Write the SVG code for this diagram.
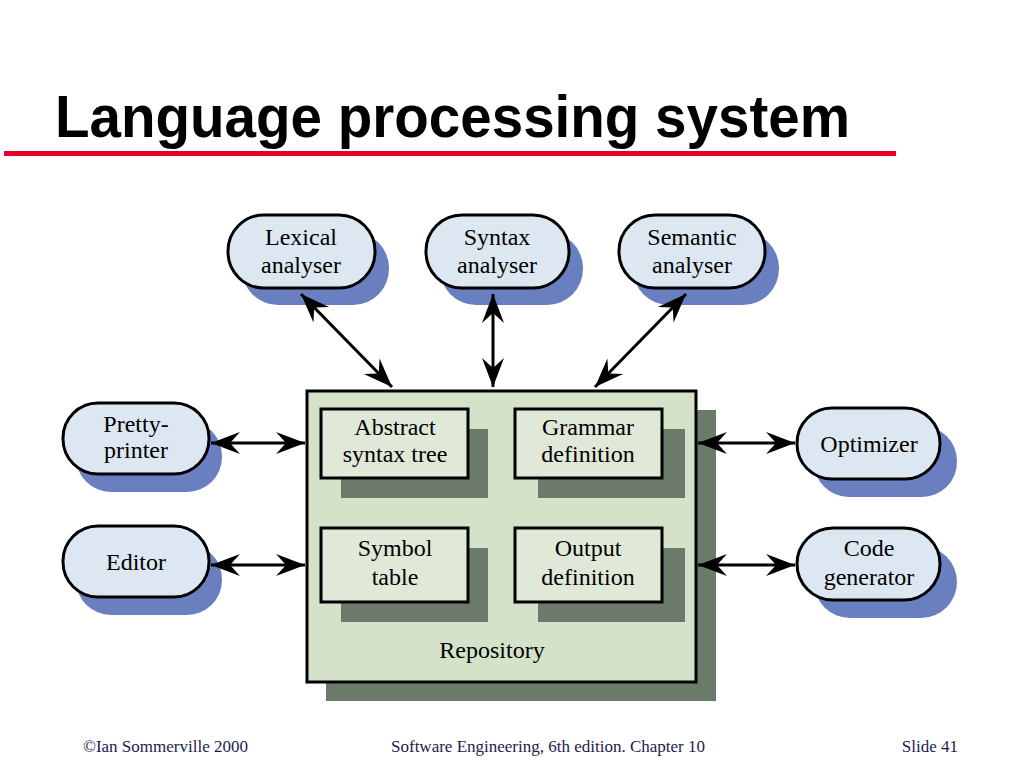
<svg xmlns="http://www.w3.org/2000/svg" width="1024" height="768" viewBox="0 0 1024 768">
<style>
.lbl{font-family:"Liberation Serif","Times New Roman",serif;font-size:24px;fill:#000;text-anchor:middle}
.foot{font-family:"Liberation Serif","Times New Roman",serif;font-size:17px;fill:#1c1c50}
.node{fill:#dde7f1;stroke:#000;stroke-width:3}
.nshadow{fill:#6a7fbf}
.box{fill:#e0e9d8;stroke:#000;stroke-width:3}
.bshadow{fill:#6b7a6a}
.conn{stroke:#000;stroke-width:3;fill:none;marker-start:url(#ah);marker-end:url(#ah)}
</style>
<defs>
<marker id="ah" markerUnits="userSpaceOnUse" viewBox="-30 -12 32 24" refX="0" refY="0" markerWidth="32" markerHeight="24" orient="auto-start-reverse">
<path d="M0,0 L-29,-11 L-19,0 L-29,11 Z" fill="#000"/>
</marker>
</defs>
<rect width="1024" height="768" fill="#fff"/>
<g id="title">
<text x="55" y="137" font-family="'Liberation Sans',Arial,sans-serif" font-weight="bold" font-size="60" textLength="795" lengthAdjust="spacingAndGlyphs">Language processing system</text>
<rect x="4" y="151" width="892" height="5" fill="#e4002b"/>
</g>
<g id="repository">
<rect x="326" y="410" width="390" height="291" class="bshadow"/>
<rect x="307" y="391" width="389" height="291" fill="#d3e2c9" stroke="#000" stroke-width="3"/>
<text x="492" y="658" class="lbl">Repository</text>
</g>
<g id="ast">
<rect x="341" y="429" width="147" height="69" class="bshadow"/>
<rect x="321" y="409" width="147" height="69" class="box"/>
<text x="395" y="435" class="lbl">Abstract</text>
<text x="395" y="462" class="lbl">syntax tree</text>
</g>
<g id="grammar">
<rect x="538" y="429" width="147" height="69" class="bshadow"/>
<rect x="515" y="409" width="147" height="69" class="box"/>
<text x="588" y="435" class="lbl">Grammar</text>
<text x="588" y="462" class="lbl">definition</text>
</g>
<g id="symbol">
<rect x="341" y="548" width="147" height="74" class="bshadow"/>
<rect x="321" y="528" width="147" height="74" class="box"/>
<text x="395" y="556" class="lbl">Symbol</text>
<text x="395" y="585" class="lbl">table</text>
</g>
<g id="output">
<rect x="538" y="548" width="147" height="74" class="bshadow"/>
<rect x="515" y="528" width="147" height="74" class="box"/>
<text x="588" y="556" class="lbl">Output</text>
<text x="588" y="585" class="lbl">definition</text>
</g>
<g id="lexical">
<rect x="242" y="232" width="147" height="73" rx="36" class="nshadow"/>
<rect x="228" y="215" width="147" height="73" rx="36" class="node"/>
<text x="301" y="245" class="lbl">Lexical</text>
<text x="301" y="273" class="lbl">analyser</text>
</g>
<g id="syntax">
<rect x="440" y="232" width="143" height="73" rx="36" class="nshadow"/>
<rect x="426" y="215" width="143" height="73" rx="36" class="node"/>
<text x="497" y="245" class="lbl">Syntax</text>
<text x="497" y="273" class="lbl">analyser</text>
</g>
<g id="semantic">
<rect x="633" y="232" width="146" height="73" rx="36" class="nshadow"/>
<rect x="619" y="215" width="146" height="73" rx="36" class="node"/>
<text x="692" y="245" class="lbl">Semantic</text>
<text x="692" y="273" class="lbl">analyser</text>
</g>
<g id="pretty">
<rect x="76" y="421" width="146" height="71" rx="35" class="nshadow"/>
<rect x="63" y="403" width="146" height="71" rx="35" class="node"/>
<text x="136" y="432" class="lbl">Pretty-</text>
<text x="136" y="458" class="lbl">printer</text>
</g>
<g id="editor">
<rect x="76" y="544" width="146" height="71" rx="35" class="nshadow"/>
<rect x="63" y="526" width="146" height="71" rx="35" class="node"/>
<text x="136" y="570" class="lbl">Editor</text>
</g>
<g id="optimizer">
<rect x="814" y="426" width="143" height="71" rx="35" class="nshadow"/>
<rect x="797" y="408" width="143" height="71" rx="35" class="node"/>
<text x="869" y="452" class="lbl">Optimizer</text>
</g>
<g id="codegen">
<rect x="814" y="546" width="143" height="72" rx="36" class="nshadow"/>
<rect x="797" y="528" width="143" height="72" rx="36" class="node"/>
<text x="869" y="556" class="lbl">Code</text>
<text x="869" y="585" class="lbl">generator</text>
</g>
<g id="connectors">
<line x1="301" y1="294" x2="392" y2="387" class="conn"/>
<line x1="493" y1="294" x2="493" y2="387" class="conn"/>
<line x1="686" y1="294" x2="595" y2="387" class="conn"/>
<line x1="211" y1="443" x2="305" y2="443" class="conn"/>
<line x1="211" y1="565" x2="305" y2="565" class="conn"/>
<line x1="698" y1="443" x2="795" y2="443" class="conn"/>
<line x1="698" y1="565" x2="795" y2="565" class="conn"/>
</g>
<g id="footer">
<text x="83" y="752" class="foot">©Ian Sommerville 2000</text>
<text x="548" y="752" class="foot" text-anchor="middle">Software Engineering, 6th edition. Chapter 10</text>
<text x="958" y="752" class="foot" text-anchor="end">Slide 41</text>
</g>
</svg>
